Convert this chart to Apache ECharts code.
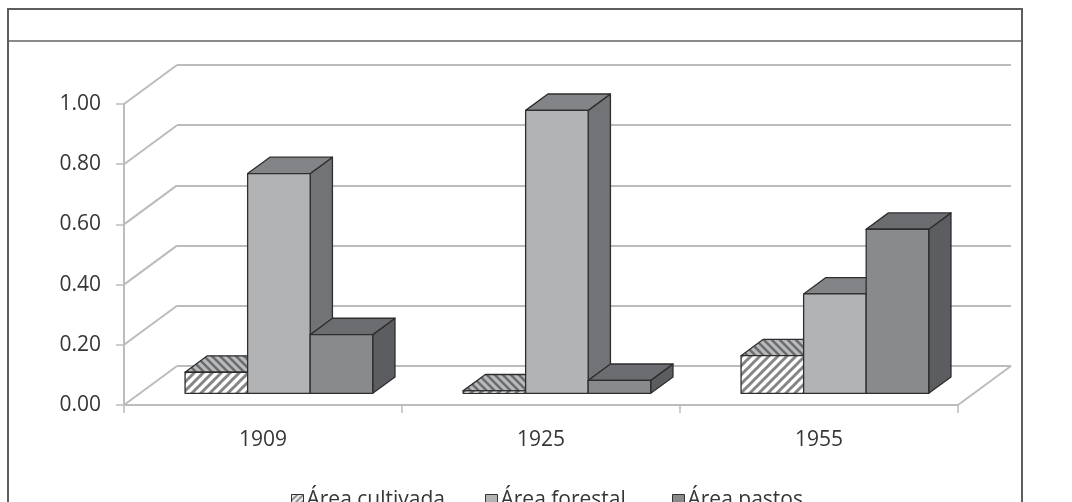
<!DOCTYPE html>
<html>
<head>
<meta charset="utf-8">
<script src="https://cdn.jsdelivr.net/npm/echarts/dist/echarts.min.js"></script>
<style>
  html, body { margin: 0; padding: 0; background: #ffffff; }
  #chart { width: 1072px; height: 502px; }
</style>
</head>
<body>
<div id="chart"></div>
<script>
// Categories, series values and axis ticks
const years = ['1909', '1925', '1955'];
const seriesNames = ['Área cultivada', 'Área forestal', 'Área pastos'];
const cultivada = [0.07, 0.008, 0.125];
const forestal = [0.73, 0.94, 0.33];
const pastos = [0.195, 0.043, 0.545];
const valueTicks = [0, 0.2, 0.4, 0.6, 0.8, 1.0];

// Perspective: offset (px) from the front plane to the back wall
const DEPTH = [53, -39];
const BAR_FRONT = 0.30;   // bar front plane, fraction of the depth
const BAR_DEEP = 0.42;    // bar thickness, fraction of the depth
const BAR_W = 0.225;      // bar width, fraction of a category band

const FONT = '"Open Sans", "Noto Sans", sans-serif';
const TEXT = '#363636';
const GRID_LINE = '#bcbcbc';
const EDGE = '#2e2e2e';

function hatch(bg, fg, dir, size, lw) {
  const c = document.createElement('canvas');
  c.width = size; c.height = size;
  const g = c.getContext('2d');
  g.fillStyle = bg; g.fillRect(0, 0, size, size);
  g.strokeStyle = fg; g.lineWidth = lw; g.lineCap = 'square';
  const segs = dir === '/'
    ? [[0, size, size, 0], [-size, size, size, -size], [0, 2 * size, 2 * size, 0]]
    : [[0, 0, size, size], [-size, 0, size, 2 * size], [0, -size, 2 * size, size]];
  segs.forEach(s => { g.beginPath(); g.moveTo(s[0], s[1]); g.lineTo(s[2], s[3]); g.stroke(); });
  return { image: c, repeat: 'repeat' };
}

const faces = [
  { front: hatch('#ffffff', '#858585', '/', 9, 3), top: hatch('#b9babc', '#6a6b6e', '\\', 8, 2.5), side: '#707174' },
  { front: '#b2b3b5', top: '#838487', side: '#727376' },
  { front: '#898a8c', top: '#6c6d70', side: '#5c5d60' }
];
const legendFill = [hatch('#ffffff', '#858585', '/', 6, 2), '#b2b3b5', '#898a8c'];

function barRenderer(k) {
  const f = faces[k];
  return function (params, api) {
    const cat = api.value(0);
    const val = api.value(1);
    const base = api.coord([cat, 0]);
    const top = api.coord([cat, val]);
    const band = api.size([1, 0])[0];
    const bw = band * BAR_W;
    const x0 = base[0] - 1.5 * bw + k * bw + DEPTH[0] * BAR_FRONT;
    const yb = base[1] + DEPTH[1] * BAR_FRONT;
    const yt = top[1] + DEPTH[1] * BAR_FRONT;
    const dx = DEPTH[0] * BAR_DEEP, dy = DEPTH[1] * BAR_DEEP;
    const x1 = x0 + bw;
    const stroke = { stroke: EDGE, lineWidth: 1.3, lineJoin: 'round' };
    return {
      type: 'group',
      children: [
        { type: 'polygon', shape: { points: [[x1, yt], [x1 + dx, yt + dy], [x1 + dx, yb + dy], [x1, yb]] },
          style: Object.assign({ fill: f.side }, stroke) },
        { type: 'polygon', shape: { points: [[x0, yt], [x1, yt], [x1 + dx, yt + dy], [x0 + dx, yt + dy]] },
          style: Object.assign({ fill: f.top }, stroke) },
        { type: 'polygon', shape: { points: [[x0, yt], [x1, yt], [x1, yb], [x0, yb]] },
          style: Object.assign({ fill: f.front }, stroke) }
      ]
    };
  };
}

// Side wall and floor edges running from the front plane to the back wall
function wallRenderer(params, api) {
  const v = api.value(1);
  const p = api.coord([0, v]);
  const cs = params.coordSys;
  const lines = [{ type: 'line', shape: { x1: cs.x, y1: p[1], x2: cs.x + DEPTH[0], y2: p[1] + DEPTH[1] },
    style: { stroke: GRID_LINE, lineWidth: 2 } }];
  if (v === 0) {
    const xr = cs.x + cs.width;
    lines.push({ type: 'line', shape: { x1: xr, y1: p[1], x2: xr + DEPTH[0], y2: p[1] + DEPTH[1] },
      style: { stroke: GRID_LINE, lineWidth: 2 } });
  }
  return { type: 'group', children: lines };
}

const values = [cultivada, forestal, pastos];
const FRONT = { left: 124, top: 104, width: 834, height: 301 };

const option = {
  animation: false,
  backgroundColor: '#ffffff',
  grid: [
    FRONT,
    { left: FRONT.left + DEPTH[0], top: FRONT.top + DEPTH[1], width: FRONT.width, height: FRONT.height }
  ],
  xAxis: [
    {
      type: 'category', gridIndex: 0, data: years,
      axisLine: { show: true, lineStyle: { color: GRID_LINE, width: 2 } },
      axisTick: { show: true, length: 8, lineStyle: { color: GRID_LINE, width: 1.5 } },
      axisLabel: { margin: 25, fontSize: 21, color: TEXT, fontFamily: FONT },
      splitLine: { show: false }
    },
    { type: 'category', gridIndex: 1, data: years, show: false }
  ],
  yAxis: [
    {
      type: 'value', gridIndex: 0, min: 0, max: 1, interval: 0.2,
      axisLine: { show: true, lineStyle: { color: GRID_LINE, width: 2 } },
      axisTick: { show: true, length: 8, lineStyle: { color: GRID_LINE, width: 1.5 } },
      axisLabel: { margin: 23, fontSize: 21, color: TEXT, fontFamily: FONT, formatter: v => v.toFixed(2) },
      splitLine: { show: false }
    },
    {
      type: 'value', gridIndex: 1, min: 0, max: 1, interval: 0.2,
      axisLine: { show: false }, axisTick: { show: false }, axisLabel: { show: false },
      splitLine: { show: true, lineStyle: { color: GRID_LINE, width: 2 } }
    }
  ],
  legend: seriesNames.map((name, k) => ({
    left: [286, 480, 667][k], top: 485,
    icon: 'rect', itemWidth: 12, itemHeight: 12,
    selectedMode: false,
    textStyle: { fontSize: 21, color: TEXT, fontFamily: FONT, padding: [0, 0, 0, -2] },
    data: [{ name: name, itemStyle: { color: legendFill[k], borderColor: '#333333', borderWidth: 1 } }]
  })),
  series: [
    {
      type: 'custom', name: 'walls', xAxisIndex: 0, yAxisIndex: 0, silent: true,
      renderItem: wallRenderer,
      data: valueTicks.map(v => [0, v])
    }
  ].concat(seriesNames.map((name, k) => ({
    type: 'custom', name: name, xAxisIndex: 0, yAxisIndex: 0, silent: true,
    itemStyle: { color: typeof faces[k].front === 'string' ? faces[k].front : '#ffffff' },
    renderItem: barRenderer(k),
    data: values[k].map((v, i) => [i, v])
  }))),
  graphic: [
    { type: 'line', shape: { x1: 8, y1: 9, x2: 1022, y2: 9 }, style: { stroke: '#5e5e5e', lineWidth: 2 } },
    { type: 'line', shape: { x1: 8, y1: 41, x2: 1022, y2: 41 }, style: { stroke: '#8a8a8a', lineWidth: 2 } },
    { type: 'line', shape: { x1: 8, y1: 8, x2: 8, y2: 502 }, style: { stroke: '#5e5e5e', lineWidth: 2 } },
    { type: 'line', shape: { x1: 1022, y1: 8, x2: 1022, y2: 502 }, style: { stroke: '#5e5e5e', lineWidth: 2 } }
  ]
};

const chart = echarts.init(document.getElementById('chart'), null, { renderer: 'canvas' });
chart.setOption(option);
</script>
</body>
</html>
